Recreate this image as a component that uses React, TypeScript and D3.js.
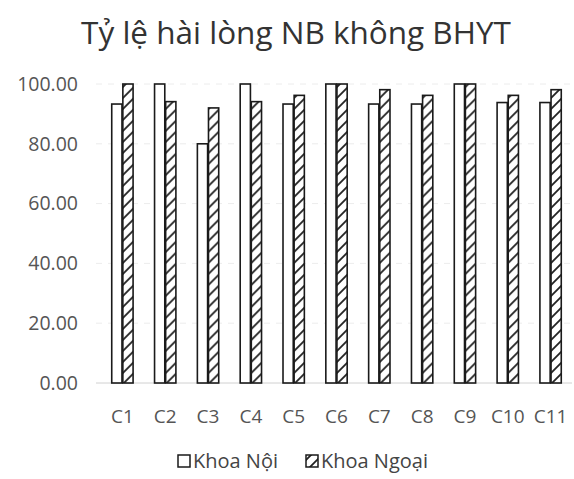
import { useEffect, useRef } from 'react';
import * as d3 from 'd3';

const categories = ['C1', 'C2', 'C3', 'C4', 'C5', 'C6', 'C7', 'C8', 'C9', 'C10', 'C11'];
const seriesNames = ['Khoa Nội', 'Khoa Ngoại'];
const khoaNoi = [93.3, 100, 80, 100, 93.3, 100, 93.3, 93.3, 100, 93.8, 93.8];
const khoaNgoai = [100, 94.1, 92, 94.1, 96.2, 100, 98.1, 96.2, 100, 96.2, 98.1];
const yTicks = [0, 20, 40, 60, 80, 100];

export default function App() {
    const ref = useRef<SVGSVGElement>(null);

    useEffect(() => {
        document.body.style.margin = '0';
        const font = "'Open Sans', 'Noto Sans', sans-serif";
        const svg = d3.select(ref.current);
        svg.selectAll('*').remove();

        // hatch pattern for Khoa Ngoại
        const defs = svg.append('defs');
        const pat = defs.append('pattern')
            .attr('id', 'hatch')
            .attr('patternUnits', 'userSpaceOnUse')
            .attr('width', 11)
            .attr('height', 11);
        pat.append('rect').attr('width', 11).attr('height', 11).attr('fill', '#fff');
        pat.append('path')
            .attr('d', 'M0,11 L11,0 M-2,2 L2,-2 M9,13 L13,9')
            .attr('stroke', '#222')
            .attr('stroke-width', 1.8);

        const x = d3.scaleBand().domain(categories).range([101, 572]).paddingInner(0.46).paddingOuter(0.23);
        const xInner = d3.scaleBand().domain(seriesNames).range([0, x.bandwidth()]).padding(0.08);
        const y = d3.scaleLinear().domain([0, 100]).range([383, 84]);

        svg.append('text')
            .attr('x', 296).attr('y', 44)
            .attr('text-anchor', 'middle')
            .attr('font-family', font)
            .attr('font-size', 31.5)
            .attr('fill', '#333')
            .text('Tỷ lệ hài lòng NB không BHYT');

        // gridlines
        svg.append('g')
            .selectAll('line')
            .data(yTicks)
            .join('line')
            .attr('x1', 96).attr('x2', 572)
            .attr('y1', d => y(d)).attr('y2', d => y(d))
            .attr('stroke', d => (d === 0 ? '#d0d0d0' : '#ececec'))
            .attr('stroke-dasharray', d => (d === 0 ? null : '6,6'));

        svg.append('g')
            .selectAll('text')
            .data(yTicks)
            .join('text')
            .attr('x', 78)
            .attr('y', d => y(d))
            .attr('dy', '0.35em')
            .attr('text-anchor', 'end')
            .attr('font-family', font)
            .attr('font-size', 19.5)
            .attr('fill', '#555')
            .text(d => d3.format('.2f')(d));

        const rows = categories.map((c, i) => ({ c, vals: [khoaNoi[i], khoaNgoai[i]] }));
        const groups = svg.append('g')
            .selectAll('g')
            .data(rows)
            .join('g')
            .attr('transform', d => `translate(${x(d.c)},0)`);

        groups.selectAll('rect')
            .data(d => d.vals.map((v, k) => ({ name: seriesNames[k], v })))
            .join('rect')
            .attr('x', d => xInner(d.name)!)
            .attr('y', d => y(d.v))
            .attr('width', xInner.bandwidth())
            .attr('height', d => y(0) - y(d.v))
            .attr('fill', d => (d.name === seriesNames[0] ? '#fff' : 'url(#hatch)'))
            .attr('stroke', '#1a1a1a')
            .attr('stroke-width', 1.6);

        svg.append('g')
            .selectAll('text')
            .data(categories)
            .join('text')
            .attr('x', d => x(d)! + x.bandwidth() / 2)
            .attr('y', 416)
            .attr('dy', '0.35em')
            .attr('text-anchor', 'middle')
            .attr('font-family', font)
            .attr('font-size', 19)
            .attr('fill', '#555')
            .text(d => d);

        // legend
        const legend = svg.append('g').attr('transform', 'translate(177,461)');
        const items = [
            { name: seriesNames[0], x: 0, fill: '#fff' },
            { name: seriesNames[1], x: 128, fill: 'url(#hatch)' },
        ];
        const li = legend.selectAll('g').data(items).join('g').attr('transform', d => `translate(${d.x},0)`);
        li.append('rect')
            .attr('x', 1).attr('y', -6)
            .attr('width', 12).attr('height', 12)
            .attr('fill', d => d.fill)
            .attr('stroke', '#1a1a1a')
            .attr('stroke-width', 1.5);
        li.append('text')
            .attr('x', 16).attr('y', 0)
            .attr('dy', '0.35em')
            .attr('font-family', font)
            .attr('font-size', 20)
            .attr('fill', '#444')
            .text(d => d.name);
    }, []);

    return (
        <div className="chart-container">
            <svg ref={ref} width={574} height={479} style={{ display: 'block' }}></svg>
        </div>
    );
}
